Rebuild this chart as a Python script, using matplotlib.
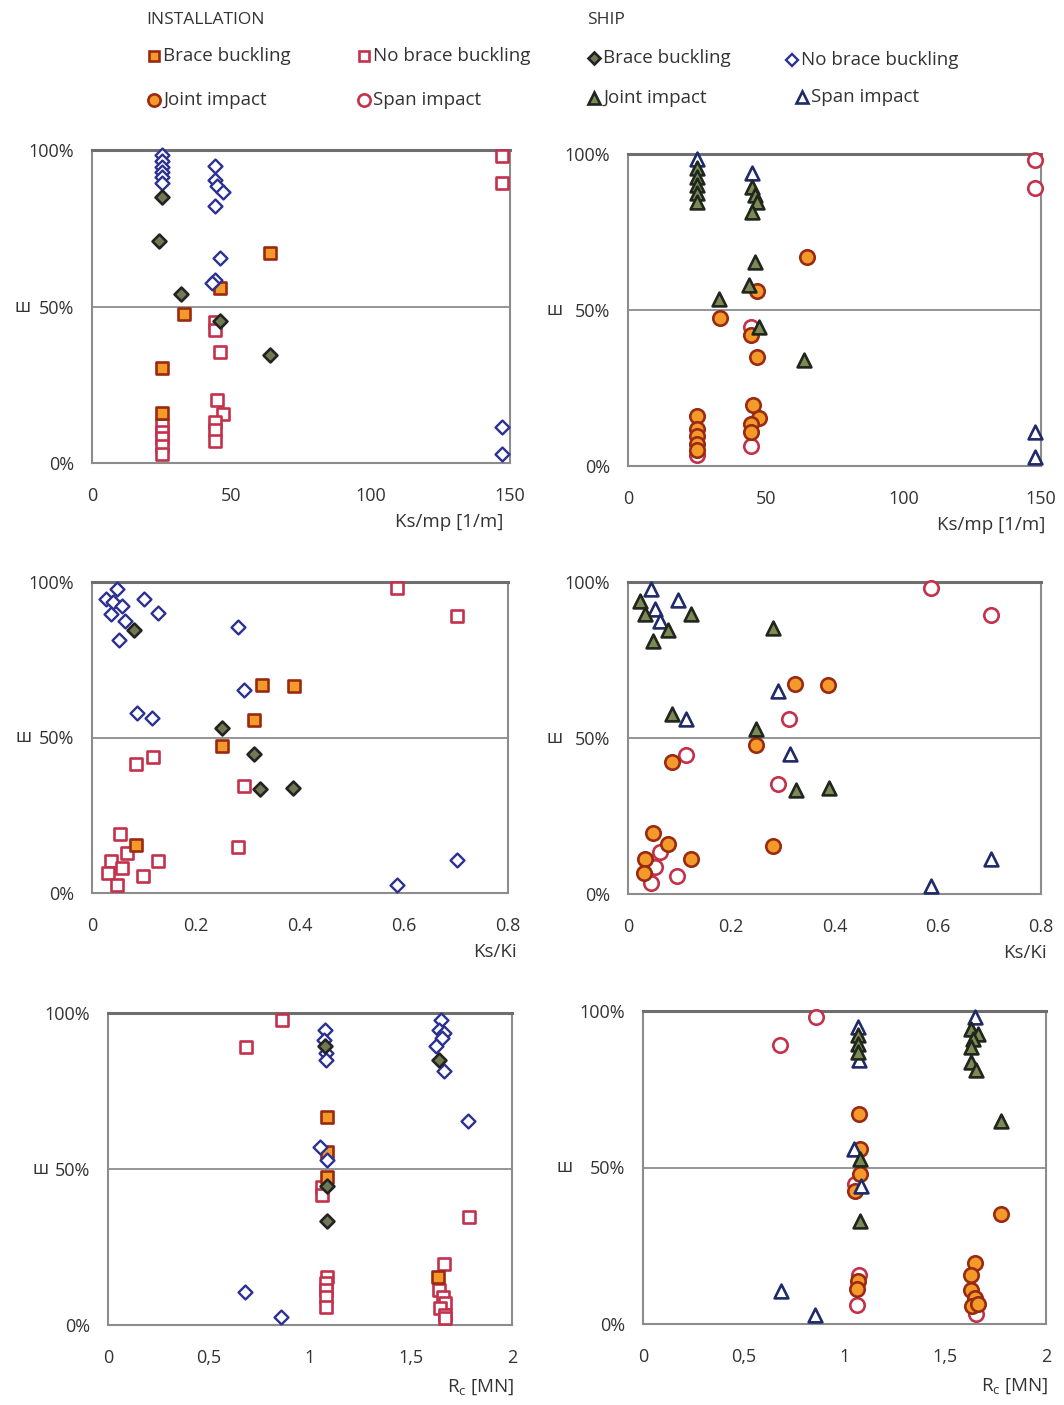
import matplotlib
matplotlib.use("Agg")
import matplotlib.pyplot as plt
from matplotlib.lines import Line2D

plt.rcParams['font.family'] = ['Open Sans', 'DejaVu Sans']

# --- data: (x, y%) ---------------------------------------------------
# Ks/mp [1/m] - installation (squares) / ship (diamonds)
ksmp_inst_bb = [(64, 67), (46, 56), (33, 47.5), (25, 30.5), (25, 16)]
ksmp_inst_nobb = [(147, 98), (147, 89.5), (44, 45), (44, 42.5), (46, 35.5), (45, 20), (47, 15.5),
                  (44, 13), (44, 10.5), (44, 7), (25, 12), (25, 10), (25, 8), (25, 5.5), (25, 3)]
ksmp_ship_bb = [(25, 85), (24, 71), (32, 54), (46, 45.5), (64, 34.5)]
ksmp_ship_nobb = [(25, 98.5), (25, 96.5), (25, 94.5), (25, 93), (25, 91.5), (25, 89.5), (44, 95),
                  (44, 90.5), (45, 88.5), (47, 86.5), (44, 82), (46, 65.5), (44, 58.5), (43, 57.5),
                  (147, 11.5), (147, 3)]
# Ks/mp [1/m] - installation (circles) / ship (triangles)
ksmp_inst_joint = [(65, 67), (47, 56), (33.5, 47.5), (44.5, 42), (47, 35), (45.5, 19.5), (47.5, 15.5),
                   (44.5, 13.5), (44.5, 11), (25, 16), (25, 12), (25, 9.5), (25, 7), (25, 5)]
ksmp_inst_span = [(148, 98), (148, 89), (44.5, 44.5), (44.5, 6.5), (25, 3.5)]
ksmp_ship_joint = [(25, 95.5), (25, 92.5), (25, 90), (25, 87.5), (25, 84.5), (45, 89.5), (46, 87),
                   (47, 84.5), (45, 81.5), (46, 65.5), (44, 58), (33, 53.5), (47.5, 44.5), (64, 34)]
ksmp_ship_span = [(25, 98.5), (45, 94), (148, 11), (148, 3)]

# Ks/Ki
kski_inst_bb = [(0.326, 67), (0.388, 66.5), (0.312, 55.5), (0.25, 47.3), (0.085, 15.5)]
kski_inst_nobb = [(0.587, 98), (0.702, 89), (0.118, 43.7), (0.085, 41.6), (0.293, 34.5), (0.281, 14.8),
                  (0.053, 18.9), (0.067, 12.8), (0.036, 10.4), (0.127, 10.4), (0.057, 8), (0.03, 6.3),
                  (0.099, 5.5), (0.048, 2.7)]
kski_ship_bb = [(0.08, 84.7), (0.25, 53.1), (0.311, 44.7), (0.324, 33.3), (0.386, 33.8)]
kski_ship_nobb = [(0.048, 97.7), (0.027, 94.5), (0.04, 93.5), (0.057, 92.4), (0.036, 89.7), (0.063, 87.6),
                  (0.052, 81.5), (0.1, 94.5), (0.127, 90), (0.28, 85.6), (0.293, 65.2), (0.086, 58),
                  (0.115, 56.3), (0.586, 2.5), (0.702, 10.7)]
kski_inst_joint = [(0.324, 67.4), (0.387, 66.9), (0.248, 47.7), (0.085, 42.4), (0.28, 15.5), (0.049, 19.4),
                   (0.078, 16), (0.032, 11.2), (0.123, 11.2), (0.031, 6.7)]
kski_inst_span = [(0.586, 98.2), (0.703, 89.3), (0.311, 56), (0.113, 44.6), (0.291, 35.2), (0.062, 13.6),
                  (0.052, 8.8), (0.095, 5.9), (0.044, 3.5)]
kski_ship_joint = [(0.023, 93.9), (0.032, 89.6), (0.078, 84.5), (0.049, 81.1), (0.123, 89.6), (0.28, 85.4),
                   (0.086, 57.6), (0.248, 53), (0.325, 33.4), (0.389, 33.9)]
kski_ship_span = [(0.044, 97.7), (0.097, 94.2), (0.052, 91.2), (0.062, 87.5), (0.291, 65.1), (0.113, 56.2),
                  (0.313, 45), (0.704, 11.2), (0.587, 2.5)]

# Rc [MN]
rc_inst_bb = [(1.085, 66.7), (1.085, 55.6), (1.085, 47.5), (1.635, 15.5)]
rc_inst_nobb = [(0.86, 97.9), (0.683, 89), (1.06, 44.3), (1.06, 41.7), (1.785, 34.7), (1.665, 19.7),
                (1.085, 15.5), (1.08, 13.4), (1.08, 11.2), (1.08, 9), (1.08, 5.9), (1.64, 11.2), (1.66, 9),
                (1.67, 7), (1.645, 5.4), (1.67, 3.3), (1.67, 2.3)]
rc_ship_bb = [(1.075, 89.3), (1.64, 85), (1.085, 44.4), (1.085, 33.2)]
rc_ship_nobb = [(1.075, 94.7), (1.07, 91.5), (1.08, 87.2), (1.08, 85), (1.65, 97.9), (1.64, 94.7),
                (1.665, 93.5), (1.655, 92), (1.625, 89.3), (1.665, 81.3), (1.78, 65.3), (1.05, 57.2),
                (1.083, 53), (0.68, 10.7), (0.858, 2.7)]
rc_inst_joint = [(1.07, 67.1), (1.075, 55.9), (1.075, 47.9), (1.05, 42.5), (1.775, 35), (1.065, 13.8),
                 (1.06, 11.2), (1.65, 19.6), (1.626, 15.8), (1.626, 11), (1.65, 8.3), (1.635, 5.6),
                 (1.665, 6.3)]
rc_inst_span = [(0.86, 98), (0.682, 89), (1.05, 44.7), (1.07, 15.8), (1.06, 6.2), (1.655, 3.1)]
rc_ship_joint = [(1.065, 92.2), (1.065, 89.5), (1.065, 87), (1.075, 52.7), (1.075, 32.9), (1.63, 94.3),
                 (1.665, 92.7), (1.64, 91.1), (1.63, 88.5), (1.63, 83.7), (1.655, 81), (1.775, 65)]
rc_ship_span = [(1.065, 94.9), (1.07, 84.2), (1.045, 55.9), (1.08, 44), (1.65, 98.1), (0.687, 10.7),
                (0.854, 3)]

ksmp_ticks = [0, 50, 100, 150]
kski_ticks = [0, 0.2, 0.4, 0.6, 0.8]
rc_ticks = [0, 0.5, 1, 1.5, 2]
rc_tick_labels = ['0', '0,5', '1', '1,5', '2']

# --- styles ---
TXT = '#333333'
sty = {
    'inst_bb': dict(marker='s', s=80, facecolor='#f39a2b', edgecolor='#9a2a12', linewidths=1.9),
    'inst_nobb': dict(marker='s', s=80, facecolor='white', edgecolor='#c4314b', linewidths=1.9),
    'ship_bb': dict(marker='D', s=50, facecolor='#6f7a52', edgecolor='#232323', linewidths=1.9),
    'ship_nobb': dict(marker='D', s=50, facecolor='white', edgecolor='#2c3190', linewidths=1.7),
    'inst_joint': dict(marker='o', s=108, facecolor='#f39a2b', edgecolor='#9a2a12', linewidths=1.9),
    'inst_span': dict(marker='o', s=108, facecolor='white', edgecolor='#c4314b', linewidths=1.9),
    'ship_joint': dict(marker='^', s=98, facecolor='#7d8a55', edgecolor='#1f261c', linewidths=1.9),
    'ship_span': dict(marker='^', s=98, facecolor='white', edgecolor='#1f2a6b', linewidths=1.9),
}

W, H = 1064, 1405
fig = plt.figure(figsize=(W / 100, H / 100), dpi=100)


def panel(box, series, xlim, ticks, ticklabels, xlabel, wx, xl_pos):
    l, t, r, b = box
    ax = fig.add_axes([l / W, 1 - b / H, (r - l) / W, (b - t) / H])
    for pts, key in series:
        xs = [p[0] for p in pts]
        ys = [p[1] for p in pts]
        ax.scatter(xs, ys, zorder=3, clip_on=False, **sty[key])
    ax.set_xlim(*xlim)
    ax.set_ylim(0, 100)
    ax.set_xticks(ticks)
    ax.set_xticklabels(ticklabels)
    ax.set_yticks([0, 50, 100])
    ax.set_yticklabels(['0%', '50%', '100%'])
    ax.tick_params(length=0, labelsize=13, colors=TXT, pad=13)
    ax.tick_params(axis='x', pad=17)
    ax.yaxis.grid(True, color='#8c8c8c', linewidth=1.3)
    ax.set_axisbelow(True)
    for sp in ax.spines.values():
        sp.set_color('#8c8c8c')
        sp.set_linewidth(1.5)
    ax.spines['top'].set_color('#6e6e6e')
    ax.spines['top'].set_linewidth(2.2)
    ax.text(wx, 0.5, 'ш', transform=ax.transAxes, ha='center', va='center', fontsize=13, color=TXT)
    ax.text(xl_pos[0], xl_pos[1], xlabel, transform=ax.transAxes, ha='right', va='center',
            fontsize=13.5, color=TXT)
    return ax


panel((92, 150, 510, 463),
      [(ksmp_inst_nobb, 'inst_nobb'), (ksmp_inst_bb, 'inst_bb'),
       (ksmp_ship_nobb, 'ship_nobb'), (ksmp_ship_bb, 'ship_bb')],
      (0, 150), ksmp_ticks, [str(v) for v in ksmp_ticks], 'Ks/mp [1/m]', -0.165, (0.985, -0.19))
panel((628, 154, 1041, 466),
      [(ksmp_inst_span, 'inst_span'), (ksmp_inst_joint, 'inst_joint'),
       (ksmp_ship_span, 'ship_span'), (ksmp_ship_joint, 'ship_joint')],
      (0, 150), ksmp_ticks, [str(v) for v in ksmp_ticks], 'Ks/mp [1/m]', -0.178, (1.01, -0.19))
panel((92, 582, 508, 893),
      [(kski_inst_nobb, 'inst_nobb'), (kski_inst_bb, 'inst_bb'),
       (kski_ship_nobb, 'ship_nobb'), (kski_ship_bb, 'ship_bb')],
      (0, 0.8), kski_ticks, [str(v) for v in kski_ticks], 'Ks/Ki', -0.165, (1.02, -0.19))
panel((628, 582, 1041, 894),
      [(kski_inst_span, 'inst_span'), (kski_inst_joint, 'inst_joint'),
       (kski_ship_span, 'ship_span'), (kski_ship_joint, 'ship_joint')],
      (0, 0.8), kski_ticks, [str(v) for v in kski_ticks], 'Ks/Ki', -0.178, (1.015, -0.19))
panel((108, 1013, 512, 1325),
      [(rc_inst_nobb, 'inst_nobb'), (rc_inst_bb, 'inst_bb'),
       (rc_ship_nobb, 'ship_nobb'), (rc_ship_bb, 'ship_bb')],
      (0, 2), rc_ticks, rc_tick_labels, r'R$_\mathregular{c}$ [MN]', -0.168, (1.005, -0.2))
panel((643, 1011, 1046, 1324),
      [(rc_inst_span, 'inst_span'), (rc_inst_joint, 'inst_joint'),
       (rc_ship_span, 'ship_span'), (rc_ship_joint, 'ship_joint')],
      (0, 2), rc_ticks, rc_tick_labels, r'R$_\mathregular{c}$ [MN]', -0.194, (1.005, -0.2))

# --- legend at the top ---
fig.text(146 / W, 1 - 20 / H, 'INSTALLATION', fontsize=12.5, color=TXT, va='center', ha='left')
fig.text(587 / W, 1 - 20 / H, 'SHIP', fontsize=12.5, color=TXT, va='center', ha='left')
legend_items = [
    (154, 56, 'inst_bb', 'Brace buckling'), (364, 56, 'inst_nobb', 'No brace buckling'),
    (594, 58, 'ship_bb', 'Brace buckling'), (792, 60, 'ship_nobb', 'No brace buckling'),
    (154, 100, 'inst_joint', 'Joint impact'), (364, 100, 'inst_span', 'Span impact'),
    (594, 98, 'ship_joint', 'Joint impact'), (802, 97, 'ship_span', 'Span impact'),
]
for px, py, key, label in legend_items:
    st = sty[key]
    ms = st['s'] ** 0.5 * 0.85
    fig.add_artist(Line2D([px / W], [1 - py / H], transform=fig.transFigure, linestyle='none',
                          marker=st['marker'], markersize=ms, markerfacecolor=st['facecolor'],
                          markeredgecolor=st['edgecolor'], markeredgewidth=st['linewidths']))
    fig.text((px + 9) / W, 1 - py / H, label, fontsize=13.5, color=TXT, va='center', ha='left')

fig.savefig('out.png', dpi=100, facecolor='white')
